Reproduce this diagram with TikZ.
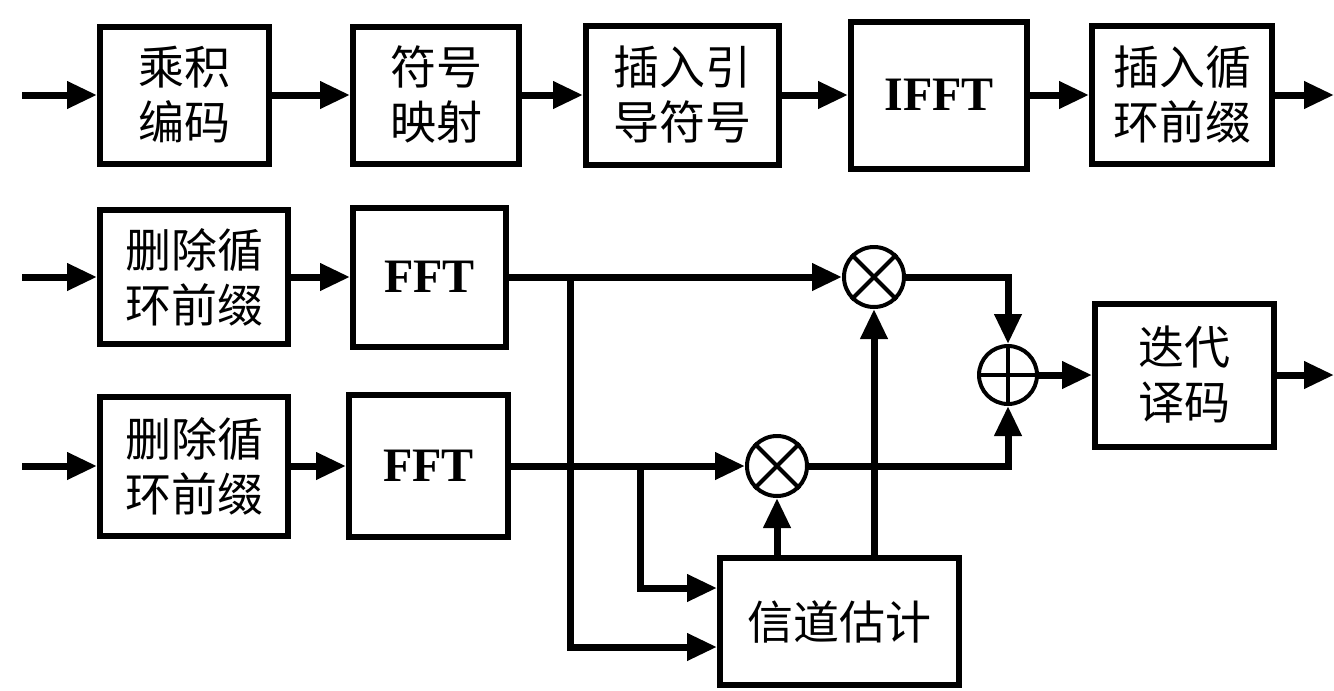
\documentclass[tikz,border=0pt]{standalone}
\usepackage{fontspec}
\setmainfont{Liberation Serif}
\newfontfamily\cjk{Noto Sans CJK SC}
\usetikzlibrary{arrows.meta}
\begin{document}
\begin{tikzpicture}[x=1pt,y=-1pt,
  blk/.style={draw, line width=6pt, align=center, inner sep=0pt,
    font=\cjk\fontsize{46}{55}\selectfont},
  lat/.style={draw, line width=6pt, align=center, inner sep=0pt,
    font=\bfseries\fontsize{48}{56}\selectfont},
  op/.style={draw, circle, line width=4pt, minimum size=60pt, inner sep=0pt},
  arr/.style={line width=7pt, line join=miter, -{Triangle[length=30pt,width=26pt]}},
  ln/.style={line width=7pt, line join=miter}]
\fill[white] (0,0) rectangle (1334,691);
\useasboundingbox (0,0) rectangle (1334,691);
% top row
\node[blk, minimum width=169pt, minimum height=137pt] (b1) at (184.5,95) {乘积\\编码};
\node[blk, minimum width=166pt, minimum height=137pt] (b2) at (436,95) {符号\\映射};
\node[blk, minimum width=193pt, minimum height=139pt] (b3) at (682.5,95) {插入引\\导符号};
\node[lat, minimum width=176pt, minimum height=147pt] (b4) at (939,95) {IFFT};
\node[blk, minimum width=180pt, minimum height=138pt] (b5) at (1182,95) {插入循\\环前缀};
\coordinate (in0) at (22,95);
\coordinate (out0) at (1334,95);
\draw[arr] (in0) -- (b1);
\draw[arr] (b1) -- (b2);
\draw[arr] (b2) -- (b3);
\draw[arr] (b3) -- (b4);
\draw[arr] (b4) -- (b5);
\draw[arr] (b5) -- (out0);
% receiver rows
\node[blk, minimum width=188pt, minimum height=134pt] (a1) at (194,277) {删除循\\环前缀};
\node[lat, minimum width=153pt, minimum height=139pt] (f1) at (429.5,277) {FFT};
\node[blk, minimum width=188pt, minimum height=139pt] (a2) at (194,466) {删除循\\环前缀};
\node[lat, minimum width=159pt, minimum height=142pt] (f2) at (428.5,466) {FFT};
\node[op] (m1) at (874,277) {};
\node[op] (m2) at (777,466) {};
\node[op, minimum size=58pt] (ad) at (1008,375) {};
\node[blk, minimum width=179pt, minimum height=143pt] (dec) at (1184.5,375) {迭代\\译码};
\node[blk, minimum width=239pt, minimum height=127pt] (ce) at (839.5,621.5) {信道估计};
\draw[line width=4pt] (m1.north west) -- (m1.south east) (m1.north east) -- (m1.south west);
\draw[line width=4pt] (m2.north west) -- (m2.south east) (m2.north east) -- (m2.south west);
\draw[line width=4pt] (ad.north) -- (ad.south) (ad.west) -- (ad.east);
\coordinate (in1) at (22,277);
\coordinate (in2) at (22,466);
\coordinate (out1) at (1334,375);
\draw[arr] (in1) -- (a1);
\draw[arr] (a1) -- (f1);
\draw[arr] (f1) -- (m1);
\draw[arr] (in2) -- (a2);
\draw[arr] (a2) -- (f2);
\draw[arr] (f2) -- (m2);
\coordinate (j1) at (570,277);
\coordinate (k1) at (570,647);
\coordinate (j2) at (640,466);
\coordinate (k2) at (640,588);
\draw[arr] (j1) -- (k1) -- (k1 -| ce.west);
\draw[arr] (j2) -- (k2) -- (k2 -| ce.west);
\draw[arr] (m2 |- ce.north) -- (m2.south);
\draw[arr] (m1 |- ce.north) -- (m1.south);
\draw[arr] (m1.east) -- (m1.east -| ad) -- (ad.north);
\draw[arr] (m2.east) -- (m2.east -| ad) -- (ad.south);
\draw[arr] (ad) -- (dec);
\draw[arr] (dec) -- (out1);
\end{tikzpicture}
\end{document}
